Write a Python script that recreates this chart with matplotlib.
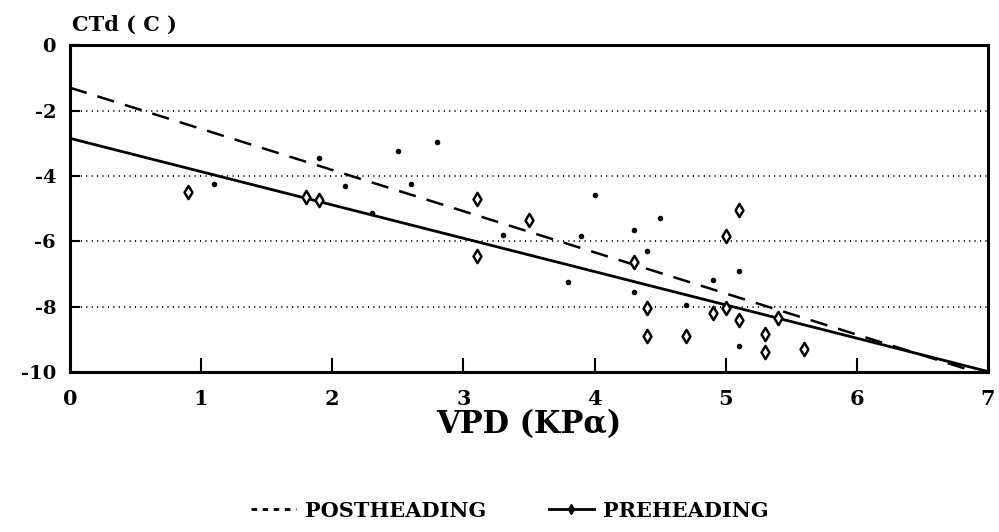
import numpy as np
import matplotlib
matplotlib.use("Agg")
import matplotlib.pyplot as plt
from matplotlib.lines import Line2D

# preheading observations (open diamonds)
pre_vpd = [0.9, 1.8, 1.9, 3.1, 3.1, 3.5, 4.3, 4.4, 4.4, 4.7, 4.9, 5.0, 5.0,
           5.1, 5.1, 5.3, 5.3, 5.4, 5.6]
pre_ctd = [-4.5, -4.65, -4.75, -4.7, -6.45, -5.35, -6.65, -8.05, -8.9, -8.9,
           -8.2, -8.05, -5.85, -5.05, -8.4, -8.85, -9.4, -8.35, -9.3]

# postheading observations (small dots)
post_vpd = [1.1, 1.9, 2.1, 2.3, 2.5, 2.6, 2.8, 3.3, 3.8, 3.9, 4.0, 4.3, 4.3,
            4.4, 4.5, 4.7, 4.9, 5.1, 5.1]
post_ctd = [-4.25, -3.45, -4.3, -5.15, -3.25, -4.25, -2.95, -5.8, -7.25, -5.85,
            -4.6, -5.65, -7.55, -6.3, -5.3, -7.95, -7.2, -6.9, -9.2]

# fitted regression lines (intercept, slope)
post_fit = (-1.3, -1.26)
pre_fit = (-2.85, -1.02)

x_ticks = [0, 1, 2, 3, 4, 5, 6, 7]
y_ticks = [0, -2, -4, -6, -8, -10]
grid_levels = [-2, -4, -6, -8]

tick_font = {"family": "DejaVu Serif", "weight": "bold"}

fig = plt.figure(figsize=(9.99, 5.32), dpi=100)
ax = fig.add_axes([0.070, 0.301, 0.919, 0.614])

for lv in grid_levels:
    ax.axhline(lv, color="black", linestyle=(0, (0.6, 2.4)), linewidth=1.3, zorder=1)

xs = np.array([0, 7])
ax.plot(xs, post_fit[0] + post_fit[1] * xs, color="black", linestyle=(0, (7, 4.5)),
        linewidth=1.8, zorder=2)
ax.plot(xs, pre_fit[0] + pre_fit[1] * xs, color="black", linestyle="-",
        linewidth=2.0, zorder=2)

ax.scatter(pre_vpd, pre_ctd, marker="d", s=45, facecolors="white",
           edgecolors="black", linewidths=1.8, zorder=3)
ax.scatter(post_vpd, post_ctd, marker="o", s=9, color="black", zorder=3)

ax.set_xlim(0, 7)
ax.set_ylim(-10, 0)
ax.set_xticks(x_ticks)
ax.set_yticks(y_ticks)
ax.set_xticklabels([str(t) for t in x_ticks], fontdict=tick_font, fontsize=15)
ax.set_yticklabels([str(t) for t in y_ticks], fontdict=tick_font, fontsize=14)
ax.tick_params(axis="x", direction="in", length=10, width=1.5, pad=12)
ax.tick_params(axis="y", direction="in", length=7, width=1.5, pad=10)
for sp in ax.spines.values():
    sp.set_linewidth(2.2)

fig.text(0.072, 0.935, "CTd ( C )", fontsize=15, fontweight="bold",
         family="DejaVu Serif", ha="left", va="bottom")
ax.set_xlabel("VPD (KPα)", fontsize=22, fontweight="bold", family="DejaVu Serif",
              labelpad=0)

handles = [
    Line2D([], [], color="black", linestyle=(0, (2, 2)), linewidth=2),
    Line2D([], [], color="black", linestyle="-", linewidth=2, marker="d",
           markersize=5, markerfacecolor="black"),
]
fig.legend(handles, ["POSTHEADING", "PREHEADING"], loc="center",
           bbox_to_anchor=(0.51, 0.04), ncol=2, frameon=False,
           prop={"family": "DejaVu Serif", "weight": "bold", "size": 15},
           handlelength=2.2, handletextpad=0.4, columnspacing=3.0)

fig.savefig("out.png", dpi=100)
